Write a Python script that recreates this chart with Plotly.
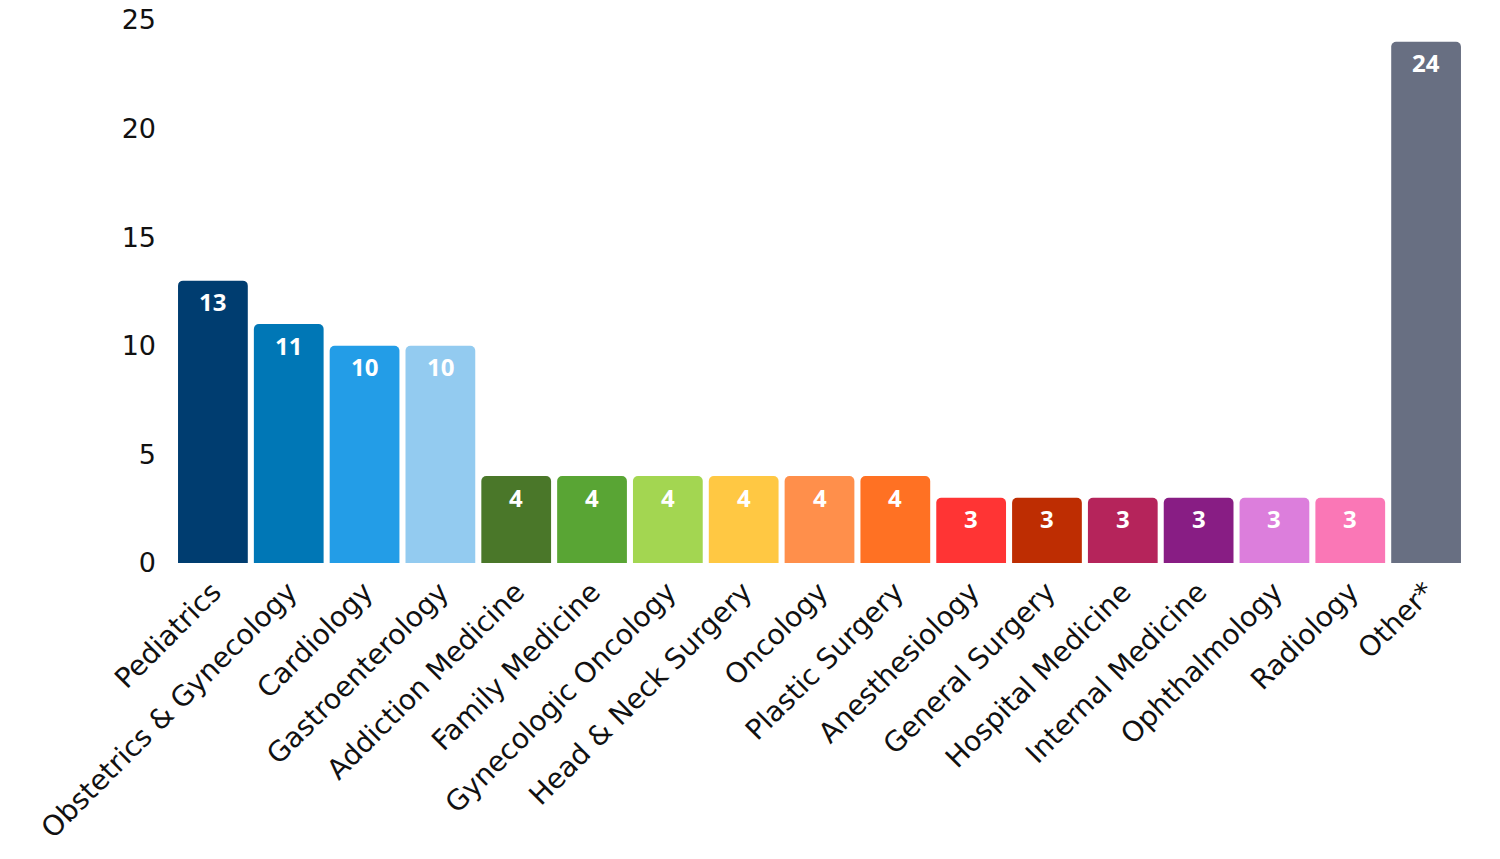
import plotly.graph_objects as go

specialties = ['Pediatrics', 'Obstetrics & Gynecology', 'Cardiology', 'Gastroenterology',
               'Addiction Medicine', 'Family Medicine', 'Gynecologic Oncology', 'Head & Neck Surgery',
               'Oncology', 'Plastic Surgery', 'Anesthesiology', 'General Surgery',
               'Hospital Medicine', 'Internal Medicine', 'Ophthalmology', 'Radiology', 'Other*']
counts = [13, 11, 10, 10, 4, 4, 4, 4, 4, 4, 3, 3, 3, 3, 3, 3, 24]
colors = ['#003D70', '#0077B6', '#239DE7', '#93CBF0', '#4A7729', '#59A534', '#A3D651',
          '#FFC843', '#FF8F4B', '#FF7123', '#FF3434', '#BE2D02', '#B5245B', '#881D84',
          '#DC7EDC', '#FA77B6', '#686F82']
y_ticks = [0, 5, 10, 15, 20, 25]

FONT = 'DejaVu Sans'

fig = go.Figure(go.Bar(x=specialties, y=counts, marker=dict(color=colors, line=dict(width=0)),
                       hoverinfo='x+y'))

# value labels inside the top of each bar
for s, c in zip(specialties, counts):
    fig.add_annotation(x=s, y=c, text='<b>%d</b>' % c, showarrow=False,
                       yanchor='middle', yshift=-21,
                       font=dict(family='Noto Sans', size=24, color='white'))

fig.update_layout(
    width=1500, height=859,
    margin=dict(l=175, r=36, t=20, b=296),
    paper_bgcolor='white', plot_bgcolor='white',
    bargap=0.08, barcornerradius=5,
    showlegend=False,
    font=dict(family=FONT, color='#111111'),
)
fig.update_xaxes(tickangle=-45, tickfont=dict(size=28), showgrid=False, showline=False,
                 ticks='', automargin=False, ticklabelstandoff=6)
fig.update_yaxes(range=[0, 25], tickvals=y_ticks, tickfont=dict(size=27), showgrid=False,
                 zeroline=False, showline=False, ticklabelstandoff=18, automargin=False,
                 ticklabeloverflow='allow')

# drop the default 8px body margin so the figure sits at the page corner
fig.write_html('out.html', config={'displayModeBar': False},
               post_script="document.body.style.margin='0px';")
